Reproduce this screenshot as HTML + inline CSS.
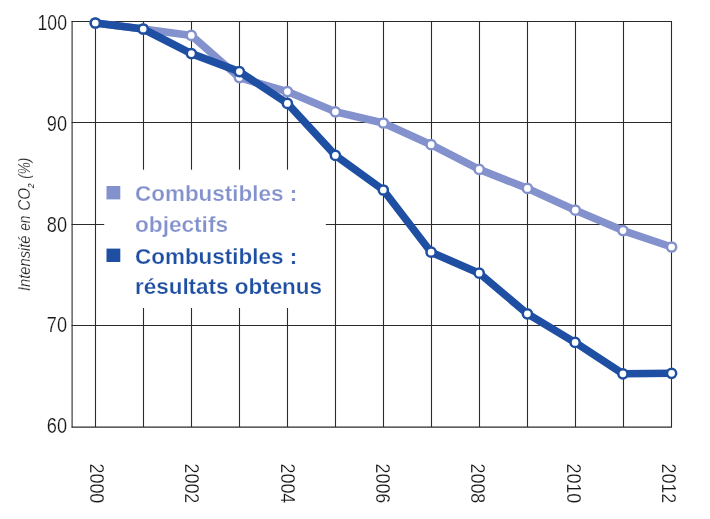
<!DOCTYPE html>
<html lang="fr"><head><meta charset="utf-8"><title>Intensité en CO2</title>
<style>
html,body{margin:0;padding:0;background:#fff;}
body{width:710px;height:519px;overflow:hidden;}
svg{display:block;font-family:"Liberation Sans",sans-serif;}
</style></head><body>
<svg xmlns="http://www.w3.org/2000/svg" width="710" height="519" viewBox="0 0 710 519">
<rect width="710" height="519" fill="#ffffff"/>

<g stroke="#2b2b2b" stroke-width="1.1" fill="none">
<line x1="71.6" y1="21.45" x2="672" y2="21.45"/>
<line x1="71.6" y1="122.5" x2="672" y2="122.5"/>
<line x1="71.6" y1="224.45" x2="672" y2="224.45"/>
<line x1="71.6" y1="325.5" x2="672" y2="325.5"/>
<line x1="71.6" y1="427.1" x2="672" y2="427.1"/>
<line x1="72.1" y1="20.95" x2="72.1" y2="427.6"/>
<line x1="95.5" y1="21.45" x2="95.5" y2="427.1"/>
<line x1="143.5" y1="21.45" x2="143.5" y2="427.1"/>
<line x1="191.5" y1="21.45" x2="191.5" y2="427.1"/>
<line x1="239.5" y1="21.45" x2="239.5" y2="427.1"/>
<line x1="287.5" y1="21.45" x2="287.5" y2="427.1"/>
<line x1="335.5" y1="21.45" x2="335.5" y2="427.1"/>
<line x1="383.5" y1="21.45" x2="383.5" y2="427.1"/>
<line x1="431.5" y1="21.45" x2="431.5" y2="427.1"/>
<line x1="479.5" y1="21.45" x2="479.5" y2="427.1"/>
<line x1="527.5" y1="21.45" x2="527.5" y2="427.1"/>
<line x1="575.5" y1="21.45" x2="575.5" y2="427.1"/>
<line x1="623.5" y1="21.45" x2="623.5" y2="427.1"/>
<line x1="671.5" y1="21.45" x2="671.5" y2="427.1"/>
</g>
<rect x="104.2" y="169.7" width="221.6" height="138.3" fill="#ffffff"/>
<polyline points="95.3,23 143.2,29 191.3,35.4 239.4,77.6 287.4,91.6 335.4,111.8 383.3,123 431.1,144.7 479.2,169.4 527.4,188.4 575.3,210.2 623,230.6 671.6,247" fill="none" stroke="#8391cd" stroke-width="7.6" stroke-linejoin="round" stroke-linecap="round"/>
<circle cx="95.3" cy="23" r="4.6" fill="#fff" stroke="#8391cd" stroke-width="2.5"/>
<circle cx="143.2" cy="29" r="4.6" fill="#fff" stroke="#8391cd" stroke-width="2.5"/>
<circle cx="191.3" cy="35.4" r="4.6" fill="#fff" stroke="#8391cd" stroke-width="2.5"/>
<circle cx="239.4" cy="77.6" r="4.6" fill="#fff" stroke="#8391cd" stroke-width="2.5"/>
<circle cx="287.4" cy="91.6" r="4.6" fill="#fff" stroke="#8391cd" stroke-width="2.5"/>
<circle cx="335.4" cy="111.8" r="4.6" fill="#fff" stroke="#8391cd" stroke-width="2.5"/>
<circle cx="383.3" cy="123" r="4.6" fill="#fff" stroke="#8391cd" stroke-width="2.5"/>
<circle cx="431.1" cy="144.7" r="4.6" fill="#fff" stroke="#8391cd" stroke-width="2.5"/>
<circle cx="479.2" cy="169.4" r="4.6" fill="#fff" stroke="#8391cd" stroke-width="2.5"/>
<circle cx="527.4" cy="188.4" r="4.6" fill="#fff" stroke="#8391cd" stroke-width="2.5"/>
<circle cx="575.3" cy="210.2" r="4.6" fill="#fff" stroke="#8391cd" stroke-width="2.5"/>
<circle cx="623" cy="230.6" r="4.6" fill="#fff" stroke="#8391cd" stroke-width="2.5"/>
<circle cx="671.6" cy="247" r="4.6" fill="#fff" stroke="#8391cd" stroke-width="2.5"/>
<polyline points="95.3,23 143.2,29 191.4,53.6 239.4,71.6 287.4,103.4 335.4,155.4 383.3,190 431.1,252.2 479.2,273.2 527.4,313.8 575.1,342.4 622.9,373.8 671.6,373.3" fill="none" stroke="#1e4fa2" stroke-width="7.6" stroke-linejoin="round" stroke-linecap="round"/>
<circle cx="95.3" cy="23" r="4.6" fill="#fff" stroke="#1e4fa2" stroke-width="2.5"/>
<circle cx="143.2" cy="29" r="4.6" fill="#fff" stroke="#1e4fa2" stroke-width="2.5"/>
<circle cx="191.4" cy="53.6" r="4.6" fill="#fff" stroke="#1e4fa2" stroke-width="2.5"/>
<circle cx="239.4" cy="71.6" r="4.6" fill="#fff" stroke="#1e4fa2" stroke-width="2.5"/>
<circle cx="287.4" cy="103.4" r="4.6" fill="#fff" stroke="#1e4fa2" stroke-width="2.5"/>
<circle cx="335.4" cy="155.4" r="4.6" fill="#fff" stroke="#1e4fa2" stroke-width="2.5"/>
<circle cx="383.3" cy="190" r="4.6" fill="#fff" stroke="#1e4fa2" stroke-width="2.5"/>
<circle cx="431.1" cy="252.2" r="4.6" fill="#fff" stroke="#1e4fa2" stroke-width="2.5"/>
<circle cx="479.2" cy="273.2" r="4.6" fill="#fff" stroke="#1e4fa2" stroke-width="2.5"/>
<circle cx="527.4" cy="313.8" r="4.6" fill="#fff" stroke="#1e4fa2" stroke-width="2.5"/>
<circle cx="575.1" cy="342.4" r="4.6" fill="#fff" stroke="#1e4fa2" stroke-width="2.5"/>
<circle cx="622.9" cy="373.8" r="4.6" fill="#fff" stroke="#1e4fa2" stroke-width="2.5"/>
<circle cx="671.6" cy="373.3" r="4.6" fill="#fff" stroke="#1e4fa2" stroke-width="2.5"/>
<rect x="106.5" y="186" width="13.8" height="13.4" fill="#8391cd"/>
<rect x="106.5" y="248.6" width="13.8" height="13.4" fill="#1e4fa2"/>
<g font-weight="bold" font-size="22.9px" stroke="#ffffff" stroke-width="0.25">
<text x="135" y="201.3" fill="#8391cd" textLength="162.2" lengthAdjust="spacingAndGlyphs">Combustibles :</text>
<text x="135" y="231.8" fill="#8391cd" textLength="93" lengthAdjust="spacingAndGlyphs">objectifs</text>
<text x="135" y="263.7" fill="#1e4fa2" textLength="162.2" lengthAdjust="spacingAndGlyphs">Combustibles :</text>
<text x="135" y="294.2" fill="#1e4fa2" textLength="187" lengthAdjust="spacingAndGlyphs">résultats obtenus</text>
</g>
<g font-size="21.3px" fill="#161616" stroke="#fff" stroke-width="0.2" text-anchor="end">
<text x="67.0" y="30.0" textLength="29.5" lengthAdjust="spacingAndGlyphs">100</text>
<text x="67.0" y="131" textLength="20.2" lengthAdjust="spacingAndGlyphs">90</text>
<text x="67.0" y="231.6" textLength="20.2" lengthAdjust="spacingAndGlyphs">80</text>
<text x="67.0" y="332.4" textLength="20.2" lengthAdjust="spacingAndGlyphs">70</text>
<text x="67.0" y="433.0" textLength="20.2" lengthAdjust="spacingAndGlyphs">60</text>
</g>
<g font-size="20.8px" fill="#161616" stroke="#fff" stroke-width="0.2">
<text transform="translate(89.6,463.5) rotate(90)" textLength="39.8" lengthAdjust="spacingAndGlyphs">2000</text>
<text transform="translate(185.0,463.5) rotate(90)" textLength="39.8" lengthAdjust="spacingAndGlyphs">2002</text>
<text transform="translate(280.5,463.5) rotate(90)" textLength="39.8" lengthAdjust="spacingAndGlyphs">2004</text>
<text transform="translate(375.9,463.5) rotate(90)" textLength="39.8" lengthAdjust="spacingAndGlyphs">2006</text>
<text transform="translate(471.3,463.5) rotate(90)" textLength="39.8" lengthAdjust="spacingAndGlyphs">2008</text>
<text transform="translate(566.8,463.5) rotate(90)" textLength="39.8" lengthAdjust="spacingAndGlyphs">2010</text>
<text transform="translate(662.2,463.5) rotate(90)" textLength="39.8" lengthAdjust="spacingAndGlyphs">2012</text>
</g>
<g transform="translate(29.9,291) rotate(-90)" font-size="16px" font-style="italic" fill="#222" stroke="#fff" stroke-width="0.2">
<text x="0" textLength="55.5" lengthAdjust="spacingAndGlyphs">Intensité</text>
<text x="60.2" textLength="15.2" lengthAdjust="spacingAndGlyphs">en</text>
<text x="80.2" textLength="22.8" lengthAdjust="spacingAndGlyphs">CO</text>
<text x="102.8" font-size="8.5px" y="4.2" stroke="none" textLength="4.8" lengthAdjust="spacingAndGlyphs">2</text>
<text x="112.2" textLength="21" lengthAdjust="spacingAndGlyphs">(%)</text>
</g>
</svg></body></html>
